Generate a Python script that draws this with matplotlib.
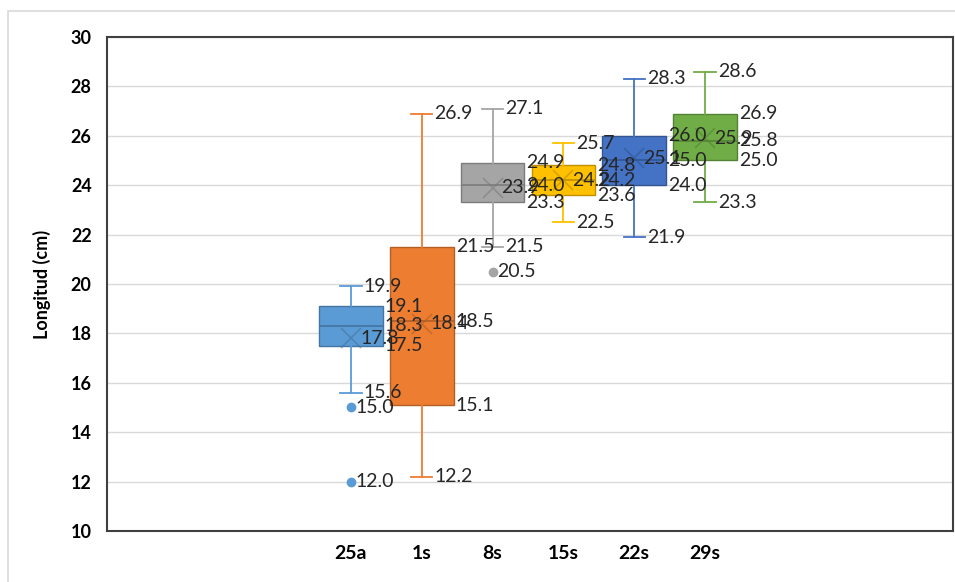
"""
Box plot of Longitud (cm) per group, Excel-style
"""

import matplotlib
matplotlib.use("Agg")
import matplotlib.pyplot as plt
import matplotlib.colors as mcolors
from matplotlib.patches import Rectangle

plt.rcParams['font.family'] = ['Lato', 'DejaVu Sans']

groups = ['25a', '1s', '8s', '15s', '22s', '29s']
whislo = [15.6, 12.2, 21.5, 22.5, 21.9, 23.3]
q1 = [17.5, 15.1, 23.3, 23.6, 24.0, 25.0]
med = [18.3, 18.5, 24.0, 24.2, 25.0, 25.8]
q3 = [19.1, 21.5, 24.9, 24.8, 26.0, 26.9]
whishi = [19.9, 26.9, 27.1, 25.7, 28.3, 28.6]
means = [17.8, 18.4, 23.9, 24.2, 25.1, 25.9]
fliers = [[15.0, 12.0], [], [20.5], [], [], []]
colors = ['#5B9BD5', '#ED7D31', '#A5A5A5', '#FFC000', '#4472C4', '#70AD47']


def darker(c, f=0.75):
    r, g, b = mcolors.to_rgb(c)
    return (r * f, g * f, b * f)


fig = plt.figure(figsize=(9.55, 5.82), dpi=100)
ax = fig.add_axes([107 / 955, 51 / 582, 846 / 955, 494 / 582])

# light chart border
fig.add_artist(Rectangle((8 / 955, -0.1), 1.2, 1.0811,
                         transform=fig.transFigure, fill=False,
                         edgecolor='#D9D9D9', linewidth=1.2))

box_w = 0.9
cap_w = 0.3
lab = dict(fontsize=14, va='center', ha='left', color='#262626')

for i, g in enumerate(groups):
    c = colors[i]
    dc = darker(c)
    stats = [dict(whislo=whislo[i], q1=q1[i], med=med[i], q3=q3[i],
                  whishi=whishi[i], mean=means[i], fliers=fliers[i], label=g)]
    ax.bxp(stats, positions=[i], widths=box_w, capwidths=cap_w,
           patch_artist=True, showmeans=True, manage_ticks=False,
           boxprops=dict(facecolor=c, edgecolor=dc, linewidth=1),
           whiskerprops=dict(color=c, linewidth=1.3),
           capprops=dict(color=c, linewidth=1.3),
           medianprops=dict(color=dc, linewidth=1.2),
           meanprops=dict(marker='x', markersize=14, markeredgecolor=dc,
                          markeredgewidth=1.2, alpha=0.6),
           flierprops=dict(marker='o', markersize=6, markerfacecolor=c,
                           markeredgecolor=c))

    # data labels
    for v in (whislo[i], whishi[i]):
        ax.annotate(f'{v:.1f}', (i + cap_w / 2, v), xytext=(1.5, 0),
                    textcoords='offset points', **lab)
    for v in (q1[i], med[i], q3[i]):
        ax.annotate(f'{v:.1f}', (i + box_w / 2, v), xytext=(1.5, 0),
                    textcoords='offset points', **lab)
    ax.annotate(f'{means[i]:.1f}', (i, means[i]), xytext=(6.5, 0),
                textcoords='offset points', **lab)
    for v in fliers[i]:
        ax.annotate(f'{v:.1f}', (i, v), xytext=(3, 0),
                    textcoords='offset points', **lab)

ax.set_xlim(-3.446, 8.503)
ax.set_ylim(10, 30)
ax.set_yticks(range(10, 31, 2))
ax.set_xticks(range(len(groups)))
ax.set_xticklabels(groups, fontsize=14, fontweight='bold')
ax.tick_params(axis='y', labelsize=13, length=0, pad=11)
ax.tick_params(axis='x', length=0, pad=10)
for t in ax.get_yticklabels():
    t.set_fontweight('bold')
ax.grid(axis='y', color='#D9D9D9', linewidth=1)
ax.set_axisbelow(True)
for s in ax.spines.values():
    s.set_color('#404040')
    s.set_linewidth(1.5)
ax.set_ylabel('Longitud (cm)', fontsize=13, fontweight='bold', labelpad=14)

fig.savefig('out.png', dpi=100)
